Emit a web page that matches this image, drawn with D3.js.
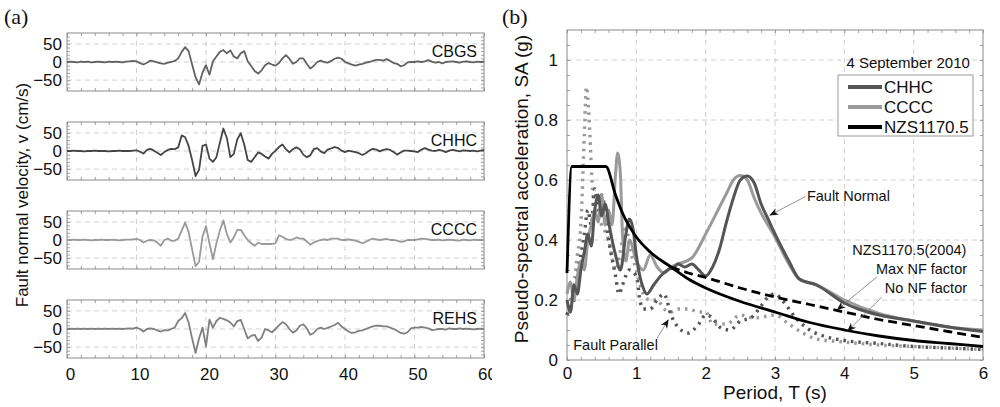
<!DOCTYPE html>
<html>
<head>
<meta charset="utf-8">
<script src="https://cdn.jsdelivr.net/npm/d3@7"></script>
<style>
body { margin: 0; background: #fff; }
svg { display: block; font-family: "Liberation Sans", Arial, sans-serif; }
</style>
</head>
<body>
<div id="chart"></div>
<script>
// ---- (a) fault-normal velocity traces, one value every 0.5 s from 0 to 60 s ----
const traceStep = 0.5;
const stations = ["CBGS", "CHHC", "CCCC", "REHS"];

const cbgsVel = [
    0, 1, 0, -1, 1, 0, 1, -1, 0, 1, 0, -1, 1, 0, 1, 0, -1, 1, 2, 3,
    2, -3, -7, -2, 4, 2, -1, -4, -5, -2, 0, 3, 10, 28, 41, 30, -7, -42, -62, -29,
    -9, -35, 2, 15, 28, 33, 24, 32, 15, 10, 24, 30, 2, -11, -25, -32, -23, -9, -3, -7,
    -10, -3, 10, 19, 9, -5, 0, 10, 10, -5, -18, -11, 0, 4, 0, -2, 3, 9, 12, 9,
    0, -4, -7, -10, -7, -5, -2, 0, 3, 6, 6, 4, 8, 3, -3, -5, -12, -9, -1, 0,
    0, 2, 0, 2, 5, 1, -2, 0, -4, 0, 1, 2, 0, -2, 1, 2, 0, -1, 1, 0,
    1
];
const chhcVel = [
    0, 0, 1, 0, 0, -1, 0, 0, 1, 0, 0, 0, -1, 0, 0, 1, 0, 0, 0, 1,
    2, -2, -7, 3, 6, 1, -5, -11, -3, 3, 6, 5, 10, 43, 38, 14, -25, -69, -52, 14,
    18, -21, -30, -17, 23, 62, 36, -17, -8, 32, 49, 18, -25, -30, -17, -4, -8, -15, -21, -8,
    1, 11, 18, 5, -4, 5, 10, 5, -10, -17, -12, 5, 8, -1, -6, 4, 7, 11, 8, 1,
    -3, 1, -1, -3, -6, -11, -6, 1, 6, 4, -1, 3, 5, 3, -3, -10, -4, 1, 1, 0,
    -1, -3, 4, 8, 4, 1, 0, 3, 1, -3, 1, 3, 1, -1, 2, 1, 0, 1, -1, 1,
    3
];
const ccccVel = [
    0, 0, 1, 0, 0, 1, 0, -1, 0, 0, 1, 0, 0, 1, 0, -1, 0, 1, 1, 2,
    3, 0, -7, -2, 0, -1, -7, -16, 0, 4, -2, -2, 4, 26, 48, 22, -26, -72, -60, 10,
    38, -9, -53, -9, 26, 54, 17, -7, 7, 28, 28, 13, 0, -9, -16, -7, -11, -11, -11, -11,
    -9, 13, 9, 3, 0, 2, 7, 4, 4, -4, -13, -7, -3, 0, 2, 0, 4, 4, 4, 0,
    0, 2, 0, -2, -5, -9, -5, 0, 4, 2, 0, 2, 3, 0, 0, -2, -5, -4, 0, 0,
    0, 2, 4, 3, 2, 0, 0, 1, -1, 0, 1, 0, -1, -2, 1, 0, -1, 1, 0, 0,
    1
];
const rehsVel = [
    0, 1, 0, 1, 0, 1, 0, 1, 0, 1, 0, 1, 0, 1, 0, 1, 0, 1, 2, 1,
    4, 0, -7, 0, 2, 0, -4, -7, -3, -4, 0, 4, 22, 30, 44, 18, -26, -66, -26, 4,
    -48, 26, 4, 22, 31, 28, 24, 18, 7, 22, 25, 0, -26, -19, -16, -33, -24, 0, -4, -9,
    0, 10, 19, 13, 0, -10, -4, 9, 13, 2, -16, -11, 0, 4, 0, 3, 7, 11, 17, 7,
    0, -7, -11, -9, -5, -4, 0, 4, 7, 9, 9, 7, 7, 4, 0, -5, -11, -13, -9, 2,
    4, 4, 6, 4, 2, -3, -2, 0, 0, -2, 2, 0, 0, 2, 0, 1, 0, -1, 0, 1,
    0
];
const velTicksX = [0, 10, 20, 30, 40, 50, 60];
const velTicksY = [-50, 0, 50];

// ---- (b) pseudo-spectral acceleration ----
const chhcFnT = [0, 0.05, 0.1, 0.15, 0.2, 0.25, 0.3, 0.35, 0.4, 0.45, 0.5, 0.55, 0.6, 0.65, 0.7, 0.77, 0.85, 0.9, 0.95, 1.0,
    1.05, 1.1, 1.15, 1.25, 1.35, 1.45, 1.55, 1.6, 1.7, 1.8, 1.9, 2.0, 2.1, 2.2, 2.3, 2.4, 2.5, 2.6, 2.7, 2.8,
    2.9, 3.0, 3.2, 3.35, 3.6, 4.0, 4.2, 4.5, 5.0, 5.5, 6.0];
const chhcFnSA = [0.2, 0.16, 0.25, 0.22, 0.3, 0.36, 0.42, 0.38, 0.5, 0.55, 0.48, 0.52, 0.46, 0.4, 0.35, 0.3, 0.42, 0.47, 0.44, 0.35,
    0.28, 0.24, 0.22, 0.25, 0.28, 0.3, 0.31, 0.32, 0.31, 0.32, 0.3, 0.28, 0.31, 0.37, 0.46, 0.54, 0.6, 0.613, 0.59, 0.52,
    0.47, 0.42, 0.33, 0.27, 0.25, 0.19, 0.17, 0.15, 0.13, 0.11, 0.095];

const ccccFnT = [0, 0.05, 0.1, 0.15, 0.2, 0.25, 0.3, 0.35, 0.4, 0.45, 0.5, 0.55, 0.6, 0.65, 0.7, 0.73, 0.77, 0.8, 0.85, 0.9,
    1.0, 1.1, 1.2, 1.3, 1.4, 1.5, 1.6, 1.8, 2.0, 2.2, 2.3, 2.4, 2.5, 2.6, 2.7, 2.8, 3.0, 3.2, 3.35, 3.6,
    4.0, 4.5, 5.0, 5.5, 6.0];
const ccccFnSA = [0.22, 0.26, 0.2, 0.28, 0.33, 0.3, 0.4, 0.45, 0.5, 0.46, 0.55, 0.45, 0.5, 0.45, 0.62, 0.69, 0.62, 0.42, 0.33, 0.4,
    0.33, 0.3, 0.35, 0.31, 0.29, 0.31, 0.32, 0.34, 0.42, 0.51, 0.555, 0.6, 0.615, 0.6, 0.54, 0.49, 0.41, 0.32, 0.27, 0.25,
    0.2, 0.155, 0.13, 0.11, 0.1];

const chhcFpT = [0, 0.05, 0.1, 0.15, 0.2, 0.25, 0.3, 0.35, 0.4, 0.45, 0.5, 0.6, 0.7, 0.75, 0.8, 0.9, 1.0, 1.05, 1.1, 1.2,
    1.3, 1.4, 1.5, 1.6, 1.75, 1.9, 2.0, 2.1, 2.2, 2.35, 2.5, 2.65, 2.8, 2.9, 3.0, 3.1, 3.3, 3.5, 3.7, 4.0,
    4.5, 5.0, 5.5, 6.0];
const chhcFpSA = [0.15, 0.18, 0.2, 0.28, 0.35, 0.42, 0.5, 0.45, 0.57, 0.5, 0.55, 0.4, 0.28, 0.22, 0.25, 0.3, 0.28, 0.2, 0.17, 0.17,
    0.2, 0.22, 0.15, 0.11, 0.09, 0.12, 0.15, 0.14, 0.11, 0.1, 0.13, 0.14, 0.18, 0.21, 0.22, 0.2, 0.14, 0.1, 0.08, 0.065,
    0.055, 0.045, 0.04, 0.035];

const ccccFpT = [0, 0.05, 0.1, 0.15, 0.2, 0.25, 0.28, 0.32, 0.36, 0.4, 0.5, 0.6, 0.7, 0.8, 0.85, 0.9, 1.0, 1.1, 1.2, 1.3,
    1.4, 1.5, 1.6, 1.75, 1.9, 2.0, 2.1, 2.3, 2.5, 2.7, 3.0, 3.2, 3.4, 3.6, 4.0, 4.5, 5.0, 5.5, 6.0];
const ccccFpSA = [0.15, 0.2, 0.25, 0.35, 0.45, 0.75, 0.91, 0.8, 0.6, 0.5, 0.45, 0.4, 0.3, 0.4, 0.45, 0.38, 0.3, 0.22, 0.2, 0.2,
    0.17, 0.16, 0.17, 0.17, 0.16, 0.16, 0.12, 0.12, 0.15, 0.14, 0.15, 0.12, 0.09, 0.07, 0.06, 0.05, 0.045, 0.04, 0.035];

const nzsT = [0, 0.07, 0.56, 0.7, 0.8, 1.0, 1.2, 1.5, 1.75, 2.0, 2.5, 3.0, 3.5, 4.0, 4.5, 5.0, 5.5, 6.0];
const nzsSA = [0.29, 0.645, 0.645, 0.55, 0.49, 0.41, 0.36, 0.31, 0.27, 0.24, 0.195, 0.16, 0.125, 0.10, 0.08, 0.065, 0.055, 0.045];

const nzsMaxNfT = [1.5, 1.75, 2.0, 2.5, 3.0, 3.5, 4.0, 4.5, 5.0, 5.5, 6.0];
const nzsMaxNfSA = [0.31, 0.29, 0.275, 0.24, 0.21, 0.185, 0.16, 0.135, 0.115, 0.095, 0.075];

const saTicksX = [0, 1, 2, 3, 4, 5, 6];
const saTicksY = [0, 0.2, 0.4, 0.6, 0.8, 1];

const width = 1000;
const height = 407;

const svg = d3.select("#chart")
    .append("svg")
    .attr("width", width)
    .attr("height", height);

const defs = svg.append("defs");
defs.append("clipPath").attr("id", "leftClip")
    .append("rect").attr("x", 0).attr("y", 0).attr("width", 492).attr("height", height);
defs.append("marker")
    .attr("id", "arrow")
    .attr("viewBox", "0 0 10 10")
    .attr("refX", 9).attr("refY", 5)
    .attr("markerWidth", 9).attr("markerHeight", 9)
    .attr("markerUnits", "userSpaceOnUse")
    .attr("orient", "auto")
    .append("path")
    .attr("d", "M0,1 L10,5 L0,9 L3,5 Z")
    .attr("fill", "#111");

// draws grid, box and inward ticks on all four sides
function drawFrame(g, x, y, xMajor, yMajor, xMinor, yMinor) {
    const [x0, x1] = x.range();
    const [y0, y1] = y.range();
    const grid = g.append("g")
        .attr("stroke", "#c4c4c4")
        .attr("stroke-width", 0.8)
        .attr("stroke-dasharray", "5,4");
    grid.selectAll(".gx")
        .data(xMajor.filter(d => x(d) > x0 + 1 && x(d) < x1 - 1))
        .join("line")
        .attr("x1", d => x(d)).attr("x2", d => x(d))
        .attr("y1", y0).attr("y2", y1);
    grid.selectAll(".gy")
        .data(yMajor.filter(d => y(d) < y0 - 1 && y(d) > y1 + 1))
        .join("line")
        .attr("x1", x0).attr("x2", x1)
        .attr("y1", d => y(d)).attr("y2", d => y(d));

    const ticks = [
        [d3.axisBottom(x), `translate(0,${y0})`, xMinor, xMajor],
        [d3.axisTop(x), `translate(0,${y1})`, xMinor, xMajor],
        [d3.axisLeft(y), `translate(${x0},0)`, yMinor, yMajor],
        [d3.axisRight(y), `translate(${x1},0)`, yMinor, yMajor]
    ];
    ticks.forEach(([axis, tr, minor, major]) => {
        const a = g.append("g").attr("transform", tr)
            .call(axis.tickValues(minor.concat(major)).tickSize(-3).tickFormat(""));
        a.select(".domain").remove();
        a.selectAll("line").attr("stroke", "#8a8a8a").attr("stroke-width", 0.8);
    });

    g.append("rect")
        .attr("x", x0).attr("y", y1)
        .attr("width", x1 - x0).attr("height", y0 - y1)
        .attr("fill", "none")
        .attr("stroke", "#8a8a8a")
        .attr("stroke-width", 1);
}

// ---------------- panel (a) ----------------
const left = svg.append("g").attr("clip-path", "url(#leftClip)");
const tX = d3.scaleLinear().domain([0, 60]).range([67, 484]);
const panelTops = [33, 122, 211, 300];
const panelH = 58;
const traces = [cbgsVel, chhcVel, ccccVel, rehsVel];
const traceColors = ["#626262", "#454545", "#9a9a9a", "#808080"];

traces.forEach((vals, i) => {
    const top = panelTops[i];
    const vY = d3.scaleLinear().domain([-80, 80]).range([top + panelH, top]);
    const g = left.append("g");
    drawFrame(g, tX, vY, velTicksX, velTicksY, d3.range(2, 60, 2).filter(d => d % 10), d3.range(-70, 80, 10).filter(d => d % 50));

    g.append("path")
        .datum(vals)
        .attr("fill", "none")
        .attr("stroke", traceColors[i])
        .attr("stroke-width", 1.8)
        .attr("stroke-linejoin", "round")
        .attr("d", d3.line().x((d, k) => tX(k * traceStep)).y(d => vY(d)));

    const ya = g.append("g")
        .attr("transform", `translate(${tX.range()[0]},0)`)
        .call(d3.axisLeft(vY).tickValues(velTicksY).tickSize(0).tickPadding(5));
    ya.select(".domain").remove();
    ya.selectAll("text").attr("font-size", 17).attr("fill", "#111")
        .attr("font-family", "Liberation Sans, Arial, sans-serif");

    g.append("text")
        .attr("x", tX(60) - 7)
        .attr("y", vY(0) - 11)
        .attr("dy", "0.35em")
        .attr("text-anchor", "end")
        .attr("font-size", 16)
        .attr("fill", "#111")
        .text(stations[i]);

    if (i === traces.length - 1) {
        const xa = g.append("g")
            .attr("transform", `translate(0,${top + panelH})`)
            .call(d3.axisBottom(tX).tickValues(velTicksX).tickSize(0).tickPadding(10));
        xa.select(".domain").remove();
        xa.selectAll("text").attr("font-size", 17).attr("fill", "#111").attr("dx", 3)
            .attr("font-family", "Liberation Sans, Arial, sans-serif");
    }
});

left.append("text")
    .attr("transform", "translate(22,195) rotate(-90)")
    .attr("text-anchor", "middle")
    .attr("dy", "0.35em")
    .attr("font-size", 17)
    .attr("fill", "#111")
    .text("Fault normal velocity, v (cm/s)");

svg.append("text")
    .attr("x", 4).attr("y", 24)
    .attr("font-family", "Liberation Serif, Times New Roman, serif")
    .attr("font-size", 22)
    .attr("fill", "#111")
    .text("(a)");

// ---------------- panel (b) ----------------
const right = svg.append("g");
const pX = d3.scaleLinear().domain([0, 6]).range([567, 983]);
const saY = d3.scaleLinear().domain([0, 1.1]).range([360, 30]);

drawFrame(right, pX, saY, saTicksX, saTicksY,
    d3.range(0.2, 6, 0.2).filter(d => Math.abs(d - Math.round(d)) > 0.01),
    d3.range(0.05, 1.1, 0.05).filter(d => Math.abs(d * 5 - Math.round(d * 5)) > 0.01));

const spectrum = d3.line()
    .x(d => pX(d[0]))
    .y(d => saY(d[1]))
    .curve(d3.curveMonotoneX);

const curves = [
    { T: ccccFpT, SA: ccccFpSA, color: "#9a9a9a", w: 3.4, dash: "2.5,5" },
    { T: chhcFpT, SA: chhcFpSA, color: "#555", w: 3.4, dash: "2.5,5" },
    { T: ccccFnT, SA: ccccFnSA, color: "#9a9a9a", w: 3, dash: null },
    { T: chhcFnT, SA: chhcFnSA, color: "#555", w: 3, dash: null },
    { T: nzsMaxNfT, SA: nzsMaxNfSA, color: "#000", w: 2.8, dash: "9,5" },
    { T: nzsT, SA: nzsSA, color: "#000", w: 2.8, dash: null }
];

curves.forEach(c => {
    right.append("path")
        .datum(c.T.map((t, k) => [t, c.SA[k]]))
        .attr("fill", "none")
        .attr("stroke", c.color)
        .attr("stroke-width", c.w)
        .attr("stroke-dasharray", c.dash)
        .attr("stroke-linejoin", "round")
        .attr("d", spectrum);
});

const xb = right.append("g")
    .attr("transform", `translate(0,${saY(0)})`)
    .call(d3.axisBottom(pX).tickValues(saTicksX).tickSize(0).tickPadding(7).tickFormat(d3.format("d")));
xb.select(".domain").remove();
xb.selectAll("text").attr("font-size", 17).attr("fill", "#111")
    .attr("font-family", "Liberation Sans, Arial, sans-serif");

const yb = right.append("g")
    .attr("transform", `translate(${pX(0)},0)`)
    .call(d3.axisLeft(saY).tickValues(saTicksY).tickSize(0).tickPadding(9).tickFormat(d3.format("~g")));
yb.select(".domain").remove();
yb.selectAll("text").attr("font-size", 17).attr("fill", "#111")
    .attr("font-family", "Liberation Sans, Arial, sans-serif");

right.append("text")
    .attr("transform", "translate(521,189) rotate(-90)")
    .attr("text-anchor", "middle")
    .attr("dy", "0.35em")
    .attr("font-size", 19)
    .attr("fill", "#111")
    .text("Pseudo-spectral acceleration, SA (g)");

right.append("text")
    .attr("x", (pX(0) + pX(6)) / 2)
    .attr("y", 399)
    .attr("text-anchor", "middle")
    .attr("font-size", 19)
    .attr("fill", "#111")
    .text("Period, T (s)");

svg.append("text")
    .attr("x", 502).attr("y", 24)
    .attr("font-family", "Liberation Serif, Times New Roman, serif")
    .attr("font-size", 22)
    .attr("fill", "#111")
    .text("(b)");

right.append("text")
    .attr("x", pX(5.81)).attr("y", saY(0.99))
    .attr("dy", "0.35em")
    .attr("text-anchor", "end")
    .attr("font-size", 15)
    .attr("fill", "#111")
    .text("4 September 2010");

// legend
const legendItems = [
    { label: "CHHC", color: "#555" },
    { label: "CCCC", color: "#9a9a9a" },
    { label: "NZS1170.5", color: "#000" }
];
const legend = right.append("g").attr("transform", "translate(838,75)");
legend.append("rect")
    .attr("width", 135).attr("height", 61)
    .attr("fill", "#fff")
    .attr("stroke", "#9a9a9a")
    .attr("stroke-width", 1);
legendItems.forEach((d, i) => {
    const cy = 12 + i * 20;
    legend.append("line")
        .attr("x1", 10).attr("x2", 44)
        .attr("y1", cy).attr("y2", cy)
        .attr("stroke", d.color)
        .attr("stroke-width", 4);
    legend.append("text")
        .attr("x", 46).attr("y", cy)
        .attr("dy", "0.35em")
        .attr("font-size", 17)
        .attr("fill", "#111")
        .text(d.label);
});
legend.append("circle").attr("cx", 27).attr("cy", 52).attr("r", 2).attr("fill", "#000");

// annotations (positions in data units)
const notes = [
    { text: "Fault Normal", T: 3.46, SA: 0.547, anchor: "start" },
    { text: "NZS1170.5(2004)", T: 5.76, SA: 0.367, anchor: "end" },
    { text: "Max NF factor", T: 5.77, SA: 0.303, anchor: "end" },
    { text: "No NF factor", T: 5.77, SA: 0.24, anchor: "end" },
    { text: "Fault Parallel", T: 0.09, SA: 0.05, anchor: "start" }
];
right.selectAll(".note")
    .data(notes)
    .join("text")
    .attr("class", "note")
    .attr("x", d => pX(d.T))
    .attr("y", d => saY(d.SA))
    .attr("dy", "0.35em")
    .attr("text-anchor", d => d.anchor)
    .attr("font-size", 14.5)
    .attr("fill", "#111")
    .text(d => d.text);

const pointers = [
    { from: [3.44, 0.545], to: [2.93, 0.483] },
    { from: [4.47, 0.277], to: [3.9, 0.168] },
    { from: [4.54, 0.21], to: [4.05, 0.097] },
    { from: [1.3, 0.073], to: [1.46, 0.133] }
];
right.selectAll(".pointer")
    .data(pointers)
    .join("line")
    .attr("class", "pointer")
    .attr("x1", d => pX(d.from[0])).attr("y1", d => saY(d.from[1]))
    .attr("x2", d => pX(d.to[0])).attr("y2", d => saY(d.to[1]))
    .attr("stroke", "#777")
    .attr("stroke-width", 0.8)
    .attr("marker-end", "url(#arrow)");
</script>
</body>
</html>
